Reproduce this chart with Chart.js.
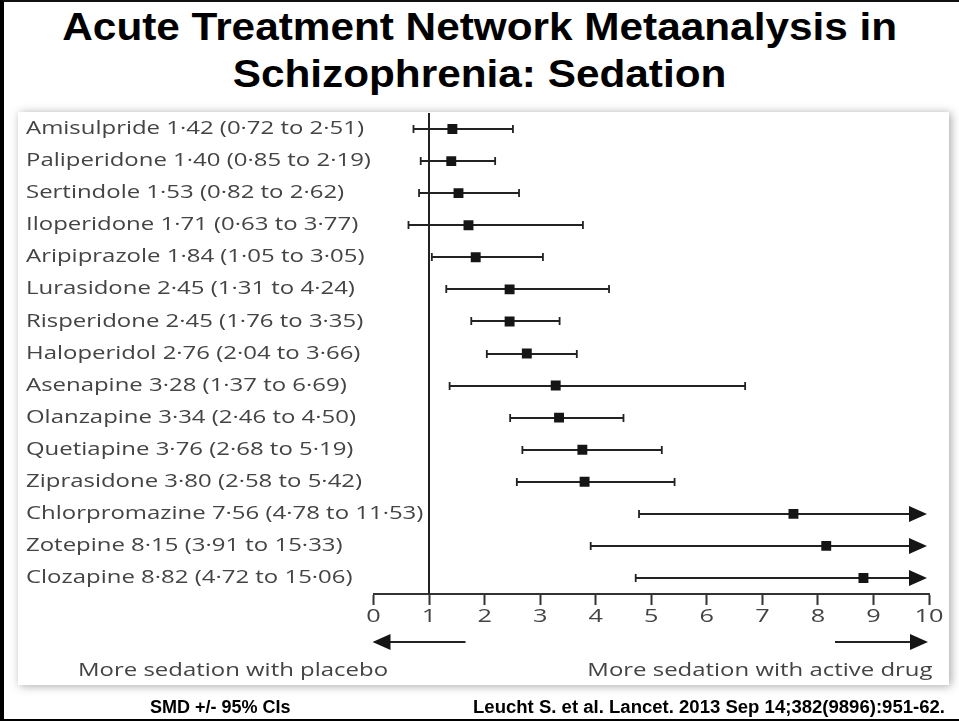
<!DOCTYPE html>
<html>
<head>
<meta charset="utf-8">
<script src="https://cdn.jsdelivr.net/npm/chart.js@4"></script>
<style>
  html, body { margin: 0; padding: 0; background: #fff; }
  body { width: 959px; height: 721px; position: relative; overflow: hidden; }
  .frame { position: absolute; left: 0; top: 0; width: 959px; height: 721px;
           border-left: 4px solid #000; border-top: 2px solid #111; border-bottom: 2px solid #000; box-sizing: border-box; }
  .title { position: absolute; left: 0; width: 959px; text-align: center;
           font-family: "Liberation Sans", Arial, sans-serif; font-weight: bold; font-size: 39px; color: #000; white-space: nowrap; }
  .title span { display: inline-block; transform: scaleX(1.085); }
  .panel { position: absolute; left: 18px; top: 112px; width: 931px; height: 573px; background: #fff;
           box-shadow: 2px 1px 9px rgba(0,0,0,0.35); }
  #wrap { position: absolute; left: 0; top: 0; width: 959px; height: 721px; }
  .dir { position: absolute; top: 657px; font-family: "Open Sans", sans-serif; font-size: 18px; color: #444; white-space: nowrap;
         transform: scaleX(1.33); }
  .foot { position: absolute; top: 697px; font-family: "Liberation Sans", Arial, sans-serif; font-weight: bold; font-size: 18px; color: #000; white-space: nowrap; }
</style>
</head>
<body>
<div class="frame"></div>
<div class="title" style="top:5px"><span>Acute Treatment Network Metaanalysis in</span></div>
<div class="title" style="top:52px"><span>Schizophrenia: Sedation</span></div>
<div class="panel"></div>
<div id="wrap"><canvas id="forest"></canvas></div>
<div class="dir" style="left:78px; transform-origin: left center;">More sedation with placebo</div>
<div class="dir" style="right:26px; transform-origin: right center;">More sedation with active drug</div>
<div class="foot" style="left:150px">SMD +/- 95% CIs</div>
<div class="foot" style="left:473px; transform: scaleX(1.03); transform-origin: left center;">Leucht S. et al. Lancet. 2013 Sep 14;382(9896):951-62.</div>

<script>
const drugs = ["Amisulpride", "Paliperidone", "Sertindole", "Iloperidone", "Aripiprazole",
  "Lurasidone", "Risperidone", "Haloperidol", "Asenapine", "Olanzapine", "Quetiapine",
  "Ziprasidone", "Chlorpromazine", "Zotepine", "Clozapine"];
const smd   = [1.42, 1.40, 1.53, 1.71, 1.84, 2.45, 2.45, 2.76, 3.28, 3.34, 3.76, 3.80, 7.56, 8.15, 8.82];
const lower = [0.72, 0.85, 0.82, 0.63, 1.05, 1.31, 1.76, 2.04, 1.37, 2.46, 2.68, 2.58, 4.78, 3.91, 4.72];
const upper = [2.51, 2.19, 2.62, 3.77, 3.05, 4.24, 3.35, 3.66, 6.69, 4.50, 5.19, 5.42, 11.53, 15.33, 15.06];
const xTicks = [0, 1, 2, 3, 4, 5, 6, 7, 8, 9, 10];

const fmt = v => v.toFixed(2).replace(".", "\u00b7");
const rowLabels = drugs.map((d, i) => `${d} ${fmt(smd[i])} (${fmt(lower[i])} to ${fmt(upper[i])})`);

const ink = "#151515";
const textStretch = 1.33; // the journal figure is set in a wide face
const labelColumn = 347.5;

const canvas = document.getElementById("forest");
const context = canvas.getContext("2d");
// widen the axis text the same way the original figure is widened
const plainFillText = context.fillText.bind(context);
context.fillText = function (text, x, y, maxWidth) {
  this.save();
  this.translate(x, y);
  this.scale(textStretch, 1);
  plainFillText(text, 0, 0);
  this.restore();
};

// whiskers, the line of no effect at 1 and the direction arrows
const forestPlugin = {
  id: "forest",
  beforeDatasetsDraw(chart) {
    const { ctx, scales: { x, y }, chartArea } = chart;
    const xmax = x.max;
    ctx.save();
    ctx.strokeStyle = "#222";
    ctx.fillStyle = ink;
    ctx.lineWidth = 2;

    // reference line at SMD = 1
    const x1 = Math.round(x.getPixelForValue(1));
    ctx.beginPath();
    ctx.moveTo(x1, chartArea.top);
    ctx.lineTo(x1, chartArea.bottom);
    ctx.stroke();

    ctx.lineWidth = 1.8;
    drugs.forEach((d, i) => {
      const py = Math.round(y.getPixelForValue(i));
      const pl = x.getPixelForValue(lower[i]);
      const clipped = upper[i] > xmax;
      const tip = x.getPixelForValue(xmax) - 2;
      const ph = clipped ? tip - 16 : x.getPixelForValue(upper[i]);
      ctx.beginPath();
      ctx.moveTo(pl, py);
      ctx.lineTo(ph, py);
      ctx.moveTo(pl, py - 4);
      ctx.lineTo(pl, py + 4);
      if (!clipped) {
        ctx.moveTo(ph, py - 4);
        ctx.lineTo(ph, py + 4);
      }
      ctx.stroke();
      if (clipped) {
        ctx.beginPath();
        ctx.moveTo(tip, py);
        ctx.lineTo(tip - 18, py - 8);
        ctx.lineTo(tip - 18, py + 8);
        ctx.closePath();
        ctx.fill();
      }
    });

    // direction arrows below the axis
    const ay = 642;
    const x0 = x.getPixelForValue(0) - 1;
    const x10 = x.getPixelForValue(xmax) - 1;
    ctx.lineWidth = 2;
    ctx.beginPath();
    ctx.moveTo(x0 + 16, ay);
    ctx.lineTo(x0 + 93, ay);
    ctx.moveTo(x10 - 16, ay);
    ctx.lineTo(x10 - 93, ay);
    ctx.stroke();
    ctx.beginPath();
    ctx.moveTo(x0, ay);
    ctx.lineTo(x0 + 18, ay - 8);
    ctx.lineTo(x0 + 18, ay + 8);
    ctx.closePath();
    ctx.moveTo(x10, ay);
    ctx.lineTo(x10 - 18, ay - 8);
    ctx.lineTo(x10 - 18, ay + 8);
    ctx.closePath();
    ctx.fill();
    ctx.restore();
  }
};

new Chart(canvas, {
  type: "scatter",
  data: {
    datasets: [{
      data: smd.map((v, i) => ({ x: v, y: i })),
      pointStyle: "rect",
      pointRadius: 7,
      pointHoverRadius: 7,
      backgroundColor: ink,
      borderColor: ink,
      borderWidth: 0
    }]
  },
  options: {
    responsive: true,
    maintainAspectRatio: false,
    animation: false,
    events: [],
    layout: { padding: { left: 26, right: 30, top: 113, bottom: 87 } },
    plugins: { legend: { display: false }, tooltip: { enabled: false } },
    scales: {
      x: {
        type: "linear",
        min: 0,
        max: 10,
        afterBuildTicks: s => { s.ticks = xTicks.map(v => ({ value: v })); },
        afterFit: s => { s.height = 40; },
        border: { display: true, color: "#333", width: 2 },
        grid: { drawOnChartArea: false, drawTicks: true, tickLength: 11, tickWidth: 2, color: "#333" },
        ticks: {
          padding: 2,
          color: "#444",
          font: { family: "'Open Sans', sans-serif", size: 19, lineHeight: 1 }
        }
      },
      y: {
        type: "category",
        labels: rowLabels,
        offset: true,
        afterFit: s => { s.width = labelColumn; },
        border: { display: false },
        grid: { display: false, drawTicks: false, tickLength: 0 },
        ticks: {
          // mirrored so the long labels may run past the zero line, as in the original
          mirror: true,
          padding: -labelColumn,
          color: "#444",
          font: { family: "'Open Sans', sans-serif", size: 18 }
        }
      }
    }
  },
  plugins: [forestPlugin]
});
</script>
</body>
</html>
